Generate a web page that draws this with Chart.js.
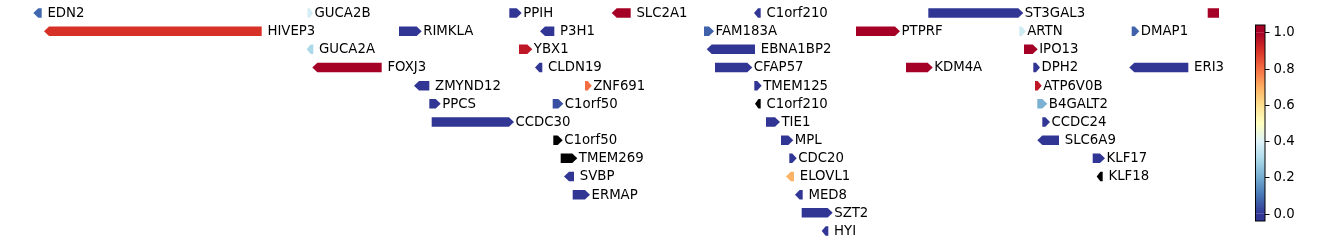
<!DOCTYPE html>
<html><head><meta charset="utf-8">
<script src="https://cdn.jsdelivr.net/npm/chart.js@4"></script>
<style>html,body{margin:0;padding:0;background:#fff}#wrap{width:1338px;height:246px;position:relative}</style>
</head><body><div id="wrap"><canvas id="c" width="1338" height="246"></canvas></div>
<script>
// ---- data ----
const genes = ['EDN2','GUCA2B','PPIH','SLC2A1','C1orf210','ST3GAL3','',
  'HIVEP3','RIMKLA','P3H1','FAM183A','PTPRF','ARTN','DMAP1',
  'GUCA2A','YBX1','EBNA1BP2','IPO13',
  'FOXJ3','CLDN19','CFAP57','KDM4A','DPH2','ERI3',
  'ZMYND12','ZNF691','TMEM125','ATP6V0B',
  'PPCS','C1orf50','C1orf210','B4GALT2',
  'CCDC30','TIE1','CCDC24',
  'C1orf50','MPL','SLC6A9',
  'TMEM269','CDC20','KLF17',
  'SVBP','ELOVL1','KLF18',
  'ERMAP','MED8',
  'SZT2',
  'HYI'];
const starts = [33.3,307.5,509.3,611.7,754.0,928.3,1207.7,
  44.0,399.0,540.0,704.0,856.0,1019.3,1131.7,
  306.7,519.0,706.7,1024.0,
  312.3,535.0,715.0,906.0,1033.3,1129.3,
  414.0,585.0,754.3,1035.0,
  429.3,552.7,755.0,1037.3,
  431.7,766.0,1042.3,
  553.3,781.0,1037.3,
  560.7,789.3,1092.7,
  564.0,786.0,1096.7,
  572.7,795.0,
  801.7,
  821.7];
const ends = [41.7,313.0,521.7,630.7,760.7,1023.3,1219.0,
  261.7,421.7,554.3,714.0,900.0,1025.7,1139.3,
  313.3,532.3,755.0,1037.7,
  381.7,542.3,752.3,932.7,1040.0,1188.3,
  429.3,591.7,761.7,1041.7,
  440.7,563.3,760.7,1047.3,
  514.0,780.0,1050.0,
  562.7,793.3,1059.0,
  577.3,796.7,1105.0,
  574.0,794.0,1102.7,
  590.0,802.7,
  832.7,
  828.3];
const strands = [-1,1,1,-1,-1,1,0,
  -1,1,-1,1,1,1,1,
  -1,1,-1,1,
  -1,-1,1,1,1,-1,
  -1,1,1,1,
  1,1,-1,1,
  1,1,1,
  1,1,-1,
  1,1,1,
  -1,-1,-1,
  1,-1,
  1,
  -1];
const rows = [0,0,0,0,0,0,0,
  1,1,1,1,1,1,1,
  2,2,2,2,
  3,3,3,3,3,3,
  4,4,4,4,
  5,5,5,5,
  6,6,6,
  7,7,7,
  8,8,8,
  9,9,9,
  10,10,
  11,
  12];
const scores = [0.08,0.38,0.0,1.0,0.0,0.0,1.0,
  0.9,0.0,0.0,0.07,1.0,0.37,0.07,
  0.3,0.95,0.0,1.0,
  1.0,0.0,0.0,1.0,0.0,0.0,
  0.0,0.8,0.0,0.95,
  0.0,0.04,null,0.21,
  0.0,0.0,0.0,
  null,0.0,0.0,
  null,0.0,0.0,
  0.0,0.69,null,
  0.0,0.0,
  0.0,
  0.0];
const cbarTicks = [0.0,0.2,0.4,0.6,0.8,1.0];
const cbarTickLabels = ['0.0','0.2','0.4','0.6','0.8','1.0'];

// ---- colormap RdYlBu_r ----
const cmap = ['#313695','#4575b4','#74add1','#abd9e9','#e0f3f8','#ffffbf','#fee090','#fdae61','#f46d43','#d73027','#a50026'];
function hex2rgb(h){return [parseInt(h.slice(1,3),16),parseInt(h.slice(3,5),16),parseInt(h.slice(5,7),16)];}
function colorFor(v){
  if(v===null||v===undefined) return '#000000';
  v=Math.max(0,Math.min(1,v));
  const p=v*(cmap.length-1), i=Math.min(Math.floor(p),cmap.length-2), f=p-i;
  const a=hex2rgb(cmap[i]), b=hex2rgb(cmap[i+1]);
  return 'rgb('+a.map((c,k)=>Math.round(c+(b[k]-c)*f)).join(',')+')';
}

const FONT = '13.3px "DejaVu Sans"';

const arrowPlugin = {
  id:'arrows',
  afterDatasetsDraw(chart){
    const ctx=chart.ctx, meta=chart.getDatasetMeta(0);
    ctx.save();
    meta.data.forEach((el,i)=>{
      const x0=Math.min(el.base,el.x), x1=Math.max(el.base,el.x);
      const h=el.height, yc=el.y, top=yc-h/2, bot=yc+h/2;
      const len=x1-x0, head=Math.min(5,len*0.6);
      ctx.beginPath();
      if(strands[i]>0){
        ctx.moveTo(x0,top);ctx.lineTo(x1-head,top);ctx.lineTo(x1,yc);ctx.lineTo(x1-head,bot);ctx.lineTo(x0,bot);
      } else if(strands[i]<0){
        ctx.moveTo(x1,top);ctx.lineTo(x0+head,top);ctx.lineTo(x0,yc);ctx.lineTo(x0+head,bot);ctx.lineTo(x1,bot);
      } else {
        ctx.rect(x0,top,len,h);
      }
      ctx.closePath();
      ctx.fillStyle=colorFor(scores[i]);
      ctx.fill();
      if(genes[i]){
        ctx.font=FONT; ctx.fillStyle='#000'; ctx.textAlign='left'; ctx.textBaseline='middle';
        ctx.fillText((strands[i]<0?' ':'')+genes[i], x1+1.5, yc+0.5);
      }
    });
    ctx.restore();
  }
};

const colorbarPlugin = {
  id:'colorbar',
  afterDraw(chart){
    const ctx=chart.ctx;
    const left=1255.5, right=1265, top=25, bottom=221;
    const vmin=-0.04, vmax=1.04;
    const yOf=v=>bottom-(v-vmin)/(vmax-vmin)*(bottom-top);
    ctx.save();
    const g=ctx.createLinearGradient(0,yOf(0),0,yOf(1));
    cmap.forEach((c,k)=>g.addColorStop(k/(cmap.length-1),c));
    ctx.fillStyle=cmap[0]; ctx.fillRect(left,yOf(0),right-left,bottom-yOf(0));
    ctx.fillStyle=cmap[cmap.length-1]; ctx.fillRect(left,top,right-left,yOf(1)-top);
    ctx.fillStyle=g; ctx.fillRect(left,yOf(1),right-left,yOf(0)-yOf(1));
    ctx.strokeStyle='#000'; ctx.lineWidth=1;
    ctx.strokeRect(left,top,right-left,bottom-top);
    ctx.font=FONT; ctx.fillStyle='#000'; ctx.textAlign='left'; ctx.textBaseline='middle';
    cbarTicks.forEach((t,k)=>{
      const y=Math.round(yOf(t))+0.5;
      ctx.beginPath(); ctx.moveTo(right,y); ctx.lineTo(right+4.5,y); ctx.stroke();
      ctx.fillText(cbarTickLabels[k], right+8.5, y+0.5);
    });
    ctx.restore();
  }
};

new Chart(document.getElementById('c'),{
  type:'bar',
  data:{datasets:[{
    data: genes.map((g,i)=>({x:[starts[i],ends[i]], y:rows[i]})),
    backgroundColor:'rgba(0,0,0,0)', borderWidth:0,
    barThickness:9.5
  }]},
  options:{
    indexAxis:'y', responsive:false, animation:false, devicePixelRatio:1,
    layout:{padding:0},
    plugins:{legend:{display:false},tooltip:{enabled:false}},
    scales:{
      x:{type:'linear',min:0,max:1338,display:false},
      y:{type:'linear',min:-0.7155,max:12.826,reverse:true,offset:false,grace:0,display:false}
    }
  },
  plugins:[arrowPlugin,colorbarPlugin]
});
</script>
</body></html>
